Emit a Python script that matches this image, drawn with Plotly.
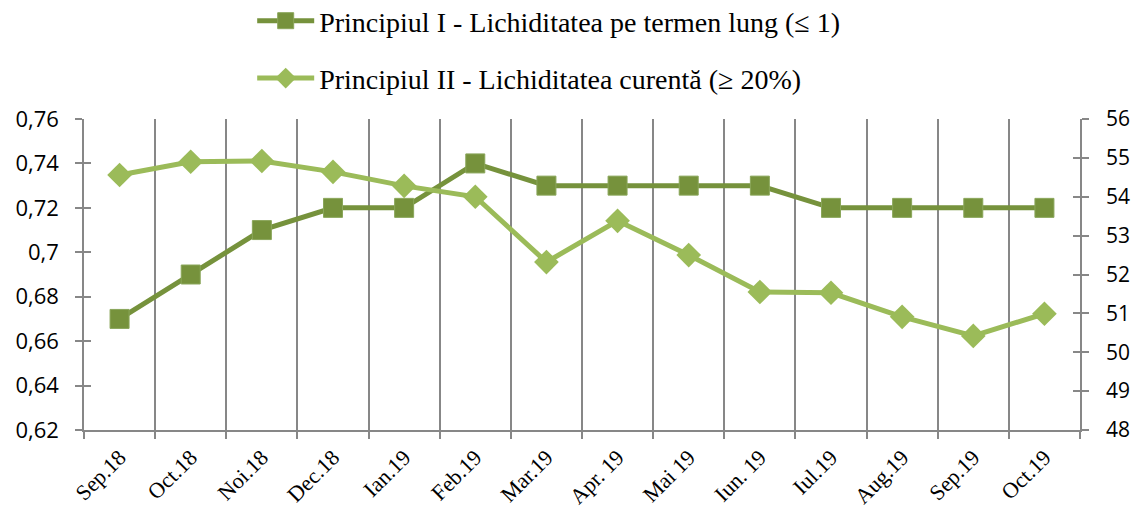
import plotly.graph_objects as go

categories = ["Sep.18", "Oct.18", "Noi.18", "Dec.18", "Ian.19", "Feb.19", "Mar.19",
              "Apr. 19", "Mai 19", "Iun. 19", "Iul.19", "Aug.19", "Sep.19", "Oct.19"]
principiul_1 = [0.67, 0.69, 0.71, 0.72, 0.72, 0.74, 0.73, 0.73, 0.73, 0.73, 0.72, 0.72, 0.72, 0.72]
principiul_2 = [54.56, 54.90, 54.92, 54.64, 54.28, 54.00, 52.32, 53.38, 52.50, 51.55, 51.53, 50.91, 50.42, 50.99]

name_1 = "Principiul I - Lichiditatea pe termen lung (≤ 1)"
name_2 = "Principiul II - Lichiditatea curentă (≥ 20%)"

dark = "#76923C"
light = "#9BBB59"
grey = "#878787"

fig = go.Figure()
fig.add_trace(go.Scatter(
    x=categories, y=principiul_1, name=name_1, mode="lines+markers",
    line=dict(color=dark, width=5),
    marker=dict(symbol="square", size=19, color=dark, line=dict(color="#8aa65a", width=1)),
    legendgroup="a", yaxis="y"))
fig.add_trace(go.Scatter(
    x=categories, y=principiul_2, name=name_2, mode="lines+markers",
    line=dict(color=light, width=5),
    marker=dict(symbol="diamond", size=19, color=light),
    legendgroup="b", yaxis="y2"))

# invisible helper traces for inside-tick overlay axes (cross ticks)
fig.add_trace(go.Scatter(x=[categories[0]], y=[principiul_1[0]], yaxis="y3", mode="markers",
                         marker=dict(opacity=0), showlegend=False, hoverinfo="skip"))
fig.add_trace(go.Scatter(x=[categories[0]], y=[principiul_2[0]], yaxis="y4", mode="markers",
                         marker=dict(opacity=0), showlegend=False, hoverinfo="skip"))

fig.update_layout(
    width=1136, height=508,
    margin=dict(l=84, r=56, t=119, b=78, autoexpand=False),
    paper_bgcolor="white", plot_bgcolor="white",
    separators=",.",
    showlegend=True,
    legend=dict(xref="container", yref="paper", x=0.222, y=1.3955, xanchor="left", yanchor="top",
                font=dict(family="Liberation Serif", size=28, color="black"),
                itemwidth=57, tracegroupgap=18, bgcolor="rgba(0,0,0,0)"),
    xaxis=dict(type="category", tickson="boundaries", showgrid=True, gridcolor=grey, gridwidth=1.5,
               showline=True, linecolor=grey, linewidth=1.5, ticks="outside", ticklen=7,
               tickcolor=grey, tickwidth=1.5, tickangle=-45, automargin=False,
               ticklabelstandoff=4,
               tickfont=dict(family="Liberation Serif", size=22, color="black"),
               range=[-0.5, 13.5]),
    yaxis=dict(range=[0.62, 0.76], dtick=0.02, showgrid=False, showline=True, linecolor=grey,
               linewidth=1.5, ticks="outside", ticklen=7, tickcolor=grey, tickwidth=1.5,
               zeroline=False, automargin=False, ticklabelstandoff=12,
               tickfont=dict(family="Open Sans", size=22, color="black")),
    yaxis2=dict(range=[48, 56], dtick=1, overlaying="y", side="right", showgrid=False,
                showline=True, linecolor=grey, linewidth=1.5, ticks="outside", ticklen=7,
                tickcolor=grey, tickwidth=1.5, zeroline=False, automargin=False,
                ticklabelstandoff=13,
                tickfont=dict(family="Open Sans", size=21, color="black")),
    yaxis3=dict(range=[0.62, 0.76], dtick=0.02, overlaying="y", side="left", showgrid=False,
                showline=False, ticks="inside", ticklen=7, tickcolor=grey, tickwidth=1.5,
                showticklabels=False, zeroline=False, automargin=False),
    yaxis4=dict(range=[48, 56], dtick=1, overlaying="y", side="right", showgrid=False,
                showline=False, ticks="inside", ticklen=7, tickcolor=grey, tickwidth=1.5,
                showticklabels=False, zeroline=False, automargin=False),
)

fig.write_html("out.html", config={"displayModeBar": False},
               post_script="document.body.style.margin='0';document.body.style.padding='0';")
